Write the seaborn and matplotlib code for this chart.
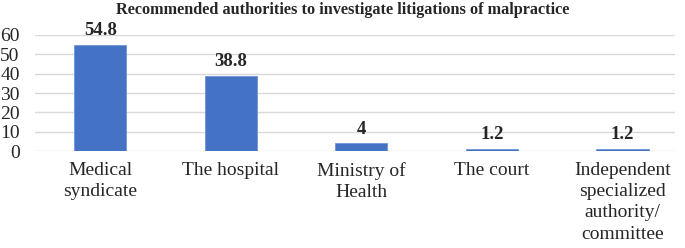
import pandas as pd
import matplotlib
matplotlib.use("Agg")
import matplotlib.pyplot as plt
import seaborn as sns

# data
categories = ["Medical\nsyndicate", "The hospital", "Ministry of\nHealth", "The court",
              "Independent\nspecialized\nauthority/\ncommittee"]
values = [54.8, 38.8, 4, 1.2, 1.2]
value_labels = ["54.8", "38.8", "4", "1.2", "1.2"]
title = "Recommended authorities to investigate litigations of malpractice"

sns.set_style("white")
plt.rcParams["font.family"] = ["Liberation Serif", "DejaVu Serif"]

df = pd.DataFrame({"Authority": categories, "Percent": values})

fig = plt.figure(figsize=(6.85, 2.48), dpi=100)
ax = fig.add_axes([0.051, 0.391, 0.934, 0.468])

sns.barplot(data=df, x="Authority", y="Percent", color="#4472C4", width=0.4,
            saturation=1, edgecolor="#6f93d6", linewidth=0.6, ax=ax, zorder=3)

ax.bar_label(ax.containers[0], labels=value_labels, padding=4,
             fontsize=13.5, fontweight="bold", clip_on=False)

ax.set_ylim(0, 60)
ax.set_yticks(range(0, 61, 10))
ax.set_xlim(-0.5, 4.4)
ax.yaxis.grid(True, color="#d9d9d9", linewidth=1)
ax.set_axisbelow(True)
for s in ax.spines.values():
    s.set_visible(False)
ax.tick_params(axis="y", length=0, pad=11, labelsize=14)
ax.tick_params(axis="x", length=0, pad=8, labelsize=14)
for lbl in ax.get_xticklabels():
    lbl.set_linespacing(1.32)
ax.set_xlabel("")
ax.set_ylabel("")

fig.suptitle(title, x=0.5, y=1 - 10 / 248, va="center", fontsize=11.7, fontweight="bold")

fig.savefig("out.png", dpi=100)
